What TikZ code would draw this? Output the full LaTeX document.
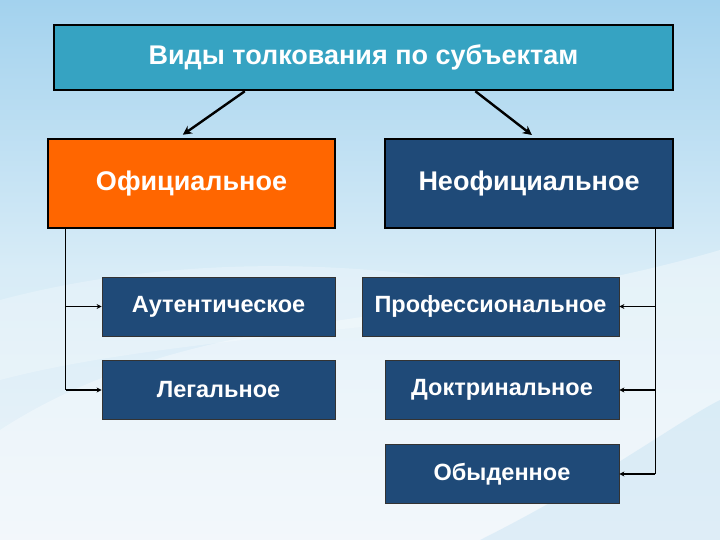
\documentclass[tikz,border=0pt]{standalone}
\usepackage{fontspec}
\setmainfont{Liberation Sans}
\usetikzlibrary{calc,arrows.meta}
\definecolor{titlebox}{HTML}{36A3C2}
\definecolor{darkbox}{HTML}{1F4A78}
\definecolor{orangebox}{HTML}{FF6600}
\definecolor{skytop}{HTML}{A3D2EE}
\definecolor{skymid}{HTML}{D8ECF7}
\definecolor{skybot}{HTML}{EDF4F9}
\tikzset{
  box/.style={draw=black, inner sep=0pt, text=white, font=\bfseries\fontsize{23.5}{27}\selectfont},
  bigbox/.style={box, line width=2.5pt, font=\bfseries\fontsize{27}{31}\selectfont},
  smallbox/.style={box, draw=black!80, line width=0.8pt, fill=darkbox, minimum height=59pt},
  bigarrow/.style={line width=2.4pt, -{Stealth[length=9pt,width=9pt]}},
  thinline/.style={line width=0.7pt},
  stub/.style={line width=1.6pt, -{Stealth[length=5pt,width=5pt]}}
}
\begin{document}
\begin{tikzpicture}[x=1pt,y=-1pt]
\useasboundingbox (0,0) rectangle (720,540);
% background sky
\shade[top color=skytop, bottom color=skybot, middle color=skymid] (0,0) rectangle (720,540);
\fill[white, opacity=0.35] (0,430) .. controls (200,300) and (450,330) .. (720,250) -- (720,540) -- (0,540) -- cycle;
\fill[white, opacity=0.25] (0,300) .. controls (150,260) and (350,250) .. (560,300) .. controls (400,330) and (150,340) .. (0,380) -- cycle;
\fill[skytop, opacity=0.25] (480,540) .. controls (600,480) and (680,420) .. (720,400) -- (720,540) -- cycle;

% nodes
\node[bigbox, fill=titlebox, minimum width=619pt, minimum height=65pt] (top) at (363.5,57.5) {Виды толкования по субъектам};
\node[bigbox, fill=orangebox, minimum width=287pt, minimum height=89pt] (off) at (191.5,183.5) {Официальное};
\node[bigbox, fill=darkbox, line width=2pt, minimum width=288pt, minimum height=89pt] (neof) at (529,183.5) {Неофициальное};

\node[smallbox, minimum width=233pt] (aut) at (218.5,306.5) {Аутентическое};
\node[smallbox, minimum width=233pt] (leg) at (218.5,390) {Легальное};
\node[smallbox, minimum width=257pt] (prof) at (490.5,306.5) {Профессиональное};
\node[smallbox, minimum width=234pt] (doct) at (502,390) {Доктринальное};
\node[smallbox, minimum width=234pt] (obyd) at (502,474) {Обыденное};

% top arrows
\draw[bigarrow] ($(top.south west)!0.309!(top.south east)$) -- ($(off.north west)!0.47!(off.north east)+(0,-3)$);
\draw[bigarrow] ($(top.south west)!0.68!(top.south east)$) -- ($(neof.north west)!0.51!(neof.north east)+(0,-3)$);

% left connector
\coordinate (lx) at ($(off.south west)+(19,0)$);
\draw[thinline] (lx) -- (lx |- leg.west);
\draw[stub] (lx |- aut.west) -- (aut.west);
\draw[stub] (lx |- leg.west) -- (leg.west);

% right connector
\coordinate (rx) at ($(neof.south east)+(-19,0)$);
\draw[thinline] (rx) -- (rx |- obyd.east);
\draw[stub] (rx |- prof.east) -- (prof.east);
\draw[stub] (rx |- doct.east) -- (doct.east);
\draw[stub] (rx |- obyd.east) -- (obyd.east);
\end{tikzpicture}
\end{document}
